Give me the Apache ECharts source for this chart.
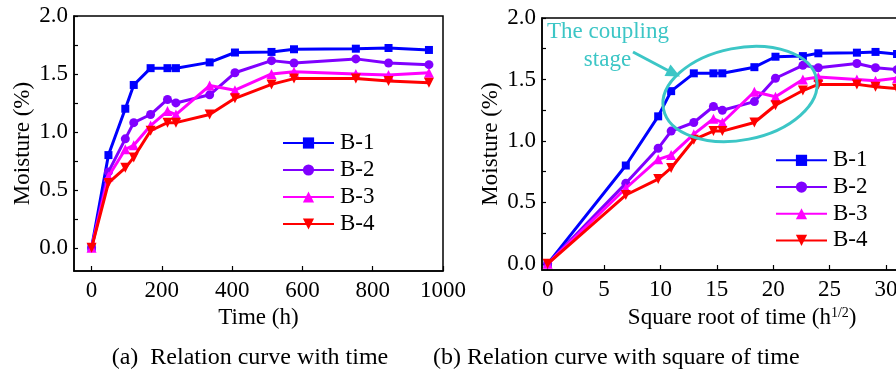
<!DOCTYPE html>
<html>
<head>
<meta charset="utf-8">
<script src="https://cdn.jsdelivr.net/npm/echarts@6/dist/echarts.min.js"></script>
<style>html,body{margin:0;padding:0;background:#fff;}#c{width:896px;height:376px;}</style>
</head>
<body>
<div id="c"></div>
<script>
const timeH = [0, 48, 96, 120, 168, 216, 240, 336, 408, 512, 576, 752, 845, 960];
const sqrtTime = [0, 6.93, 9.80, 10.95, 12.96, 14.70, 15.49, 18.33, 20.20, 22.63, 24.00, 27.42, 29.07, 30.98];
const seriesNames = ['B-1', 'B-2', 'B-3', 'B-4'];
const B1 = [0, 0.80, 1.20, 1.405, 1.55, 1.55, 1.55, 1.60, 1.685, 1.69, 1.713, 1.718, 1.724, 1.707];
const B2 = [0, 0.655, 0.94, 1.08, 1.15, 1.28, 1.25, 1.32, 1.51, 1.615, 1.595, 1.63, 1.595, 1.58];
const B3 = [0, 0.615, 0.85, 0.885, 1.055, 1.18, 1.15, 1.40, 1.36, 1.50, 1.52, 1.50, 1.49, 1.51];
const B4 = [0, 0.56, 0.69, 0.78, 1.01, 1.08, 1.08, 1.15, 1.29, 1.41, 1.46, 1.46, 1.44, 1.425];
const xTicksA = [0, 200, 400, 600, 800, 1000];
const xTicksB = [0, 5, 10, 15, 20, 25, 30, 35];
const yLabels = [0, 0.5, 1.0, 1.5, 2.0];
const yTicks = [0, 0.25, 0.5, 0.75, 1.0, 1.25, 1.5, 1.75, 2.0];

const values = [B1, B2, B3, B4];
const colors = ['#0000ff', '#8000ff', '#ff00ff', '#ff0000'];
const symbols = ['rect', 'circle', 'triangle', 'triangle'];
const rotates = [0, 0, 0, 180];
const sizes = [8, 9, 10, 10];
const FONT = 'Liberation Serif';
const TEAL = '#3cc6c6';

function buildSeries(xs, idx) {
  return values.map((v, i) => ({
    name: seriesNames[i], type: 'line',
    xAxisIndex: idx, yAxisIndex: idx,
    data: xs.map((x, k) => [x, v[k]]),
    symbol: symbols[i], symbolRotate: rotates[i], symbolSize: sizes[i],
    showAllSymbol: true,
    lineStyle: { color: colors[i], width: 3 },
    itemStyle: { color: colors[i] },
    emphasis: { disabled: true },
    animation: false, z: 2 + i
  }));
}

function xAxis(idx, min, max, ticks, name) {
  return {
    type: 'value', gridIndex: idx, min: min, max: max,
    name: name, nameLocation: 'middle', nameGap: 31,
    nameTextStyle: { fontFamily: FONT, fontSize: 23, color: '#000',
      rich: { a: { fontFamily: FONT, fontSize: 23, color: '#000' },
              s: { fontFamily: FONT, fontSize: 14, color: '#000', verticalAlign: 'top', padding: [0, 0, 10, 0] } } },
    axisLine: { onZero: false, lineStyle: { color: '#000', width: 1.5 } },
    axisTick: { inside: true, length: 5, customValues: ticks, lineStyle: { color: '#000', width: 1.2 } },
    axisLabel: { customValues: ticks, fontFamily: FONT, fontSize: 23, color: '#000', margin: 8,
      formatter: v => String(v) },
    splitLine: { show: false }
  };
}
function yAxis(idx, min) {
  return {
    type: 'value', gridIndex: idx, min: min, max: 2.0,
    name: 'Moisture (%)', nameLocation: 'middle', nameGap: 40,
    nameTextStyle: { fontFamily: FONT, fontSize: 23, color: '#000' },
    axisLine: { onZero: false, lineStyle: { color: '#000', width: 1.5 } },
    axisTick: { inside: true, length: 4, customValues: yTicks, lineStyle: { color: '#000', width: 1.2 } },
    axisLabel: { customValues: yLabels, fontFamily: FONT, fontSize: 23, color: '#000', margin: 6,
      formatter: v => v.toFixed(1) },
    splitLine: { show: false }
  };
}

const chart = echarts.init(document.getElementById('c'), null, { renderer: 'canvas' });
chart.setOption({
  backgroundColor: '#fff',
  animation: false,
  grid: [
    { left: 74, top: 16, width: 369, height: 255, show: true, borderColor: '#000', borderWidth: 1.5, backgroundColor: 'transparent', outerBoundsMode: 'none', containLabel: false },
    { left: 542, top: 18, width: 400.4, height: 252, show: true, borderColor: '#000', borderWidth: 1.5, backgroundColor: 'transparent', outerBoundsMode: 'none', containLabel: false }
  ],
  xAxis: [
    xAxis(0, -50, 1000, xTicksA, 'Time (h)'),
    xAxis(1, -0.5, 35, xTicksB, '{a|Square root of time (h}{s|1/2}{a|)}')
  ],
  yAxis: [yAxis(0, -0.2), yAxis(1, -0.05)],
  legend: [
    { data: seriesNames, left: 282, top: 129.5, orient: 'vertical', itemWidth: 51, itemHeight: 14, itemGap: 0,
      textStyle: { fontFamily: FONT, fontSize: 23, color: '#000', lineHeight: 27, padding: [0, 0, 0, 1] },
      selectedMode: false, padding: 0 },
    { data: seriesNames, left: 775, top: 147, orient: 'vertical', itemWidth: 51, itemHeight: 14, itemGap: 0,
      textStyle: { fontFamily: FONT, fontSize: 23, color: '#000', lineHeight: 26.7, padding: [0, 0, 0, 1] },
      selectedMode: false, padding: 0 }
  ],
  series: buildSeries(timeH, 0).concat(buildSeries(sqrtTime, 1)),
  graphic: [
    { type: 'ellipse', x: 740, y: 94, rotation: 0.194, shape: { cx: 0, cy: 0, rx: 78, ry: 46 },
      style: { fill: 'none', stroke: TEAL, lineWidth: 3 }, z: 100 },
    { type: 'line', shape: { x1: 633, y1: 52, x2: 668, y2: 70.5 }, style: { stroke: TEAL, lineWidth: 3 }, z: 100 },
    { type: 'polygon', shape: { points: [[680, 76.5], [664.5, 76], [670.5, 64.5]] }, style: { fill: TEAL }, z: 100 },
    { type: 'text', x: 608, y: 32, style: { text: 'The coupling', fill: TEAL, font: '23px "Liberation Serif"', textAlign: 'center', textVerticalAlign: 'middle' }, z: 100 },
    { type: 'text', x: 607.5, y: 60, style: { text: 'stage', fill: TEAL, font: '23px "Liberation Serif"', textAlign: 'center', textVerticalAlign: 'middle' }, z: 100 },
    { type: 'text', x: 111.7, y: 357.5, style: { text: '(a)  Relation curve with time', fill: '#000', font: '24px "Liberation Serif"', textAlign: 'left', textVerticalAlign: 'middle' } },
    { type: 'text', x: 433, y: 357.5, style: { text: '(b) Relation curve with square of time', fill: '#000', font: '24px "Liberation Serif"', textAlign: 'left', textVerticalAlign: 'middle' } }
  ]
});
</script>
</body>
</html>
